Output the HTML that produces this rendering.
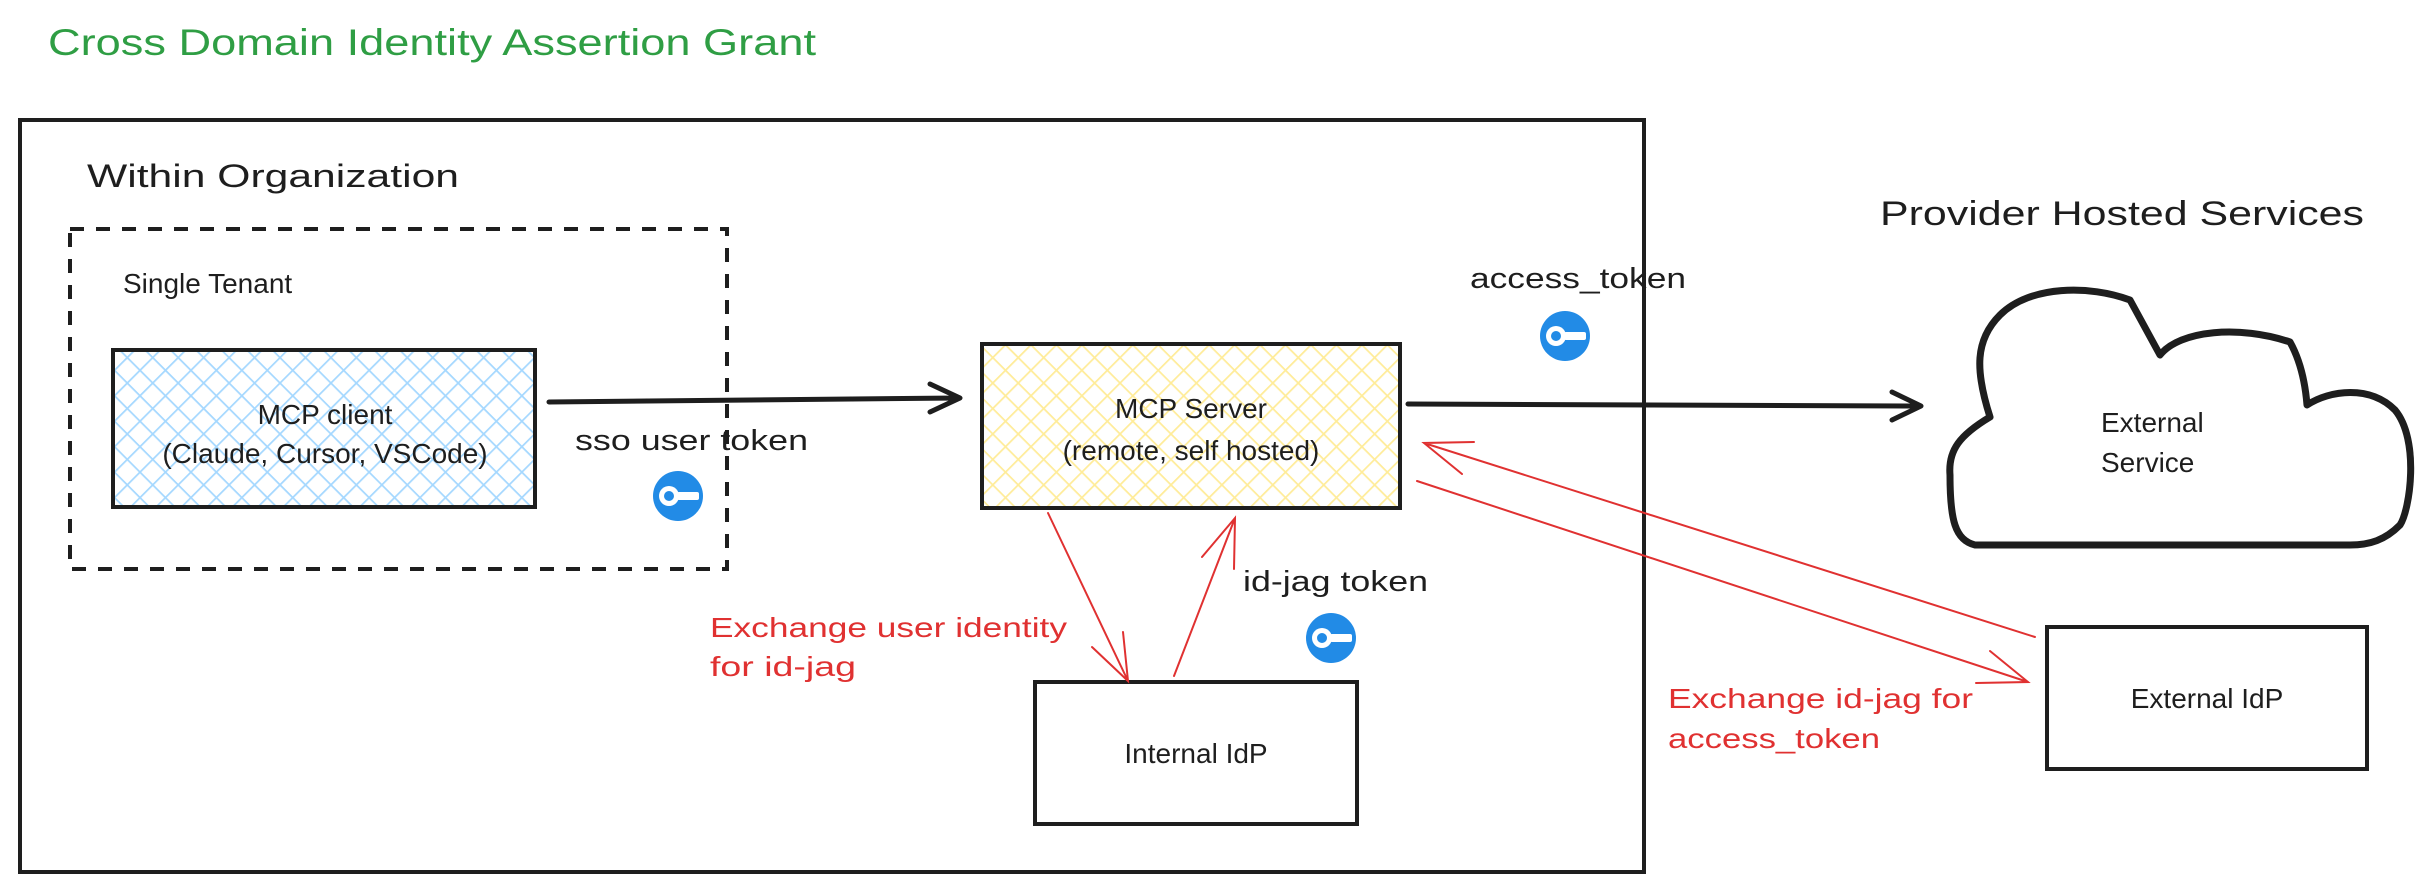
<!DOCTYPE html>
<html><head><meta charset="utf-8"><style>
html,body{margin:0;padding:0;background:#fff;}
svg{display:block}
text{font-family:"Liberation Sans",sans-serif;}
</style></head><body>
<svg width="2426" height="891" viewBox="0 0 2426 891" xmlns="http://www.w3.org/2000/svg">
<defs>
<pattern id="hb" width="18" height="18" patternUnits="userSpaceOnUse" patternTransform="rotate(45)">
<path d="M0 0V18M0 0H18" stroke="#a5d8ff" stroke-width="3.5"/>
</pattern>
<pattern id="hy" width="18" height="18" patternUnits="userSpaceOnUse" patternTransform="rotate(45)">
<path d="M0 0V18M0 0H18" stroke="#ffec99" stroke-width="3.5"/>
</pattern>
<g id="key">
<circle r="25" fill="#228be6"/>
<circle cx="-9" cy="0" r="10" fill="#fff"/>
<circle cx="-9" cy="0" r="5" fill="#228be6"/>
<rect x="-1" y="-4" width="22" height="8" rx="2" fill="#fff"/>
</g>
</defs>

<text x="48" y="55" font-size="37" fill="#2f9e44" textLength="768" lengthAdjust="spacingAndGlyphs">Cross Domain Identity Assertion Grant</text>

<rect x="20" y="120" width="1624" height="752" fill="none" stroke="#1e1e1e" stroke-width="4"/>
<text x="87" y="187" font-size="32" fill="#1e1e1e" textLength="372" lengthAdjust="spacingAndGlyphs">Within Organization</text>

<rect x="70" y="229" width="657" height="340" fill="none" stroke="#1e1e1e" stroke-width="4" stroke-dasharray="14 12"/>
<text x="123" y="293" font-size="28" fill="#1e1e1e">Single Tenant</text>

<rect x="113" y="350" width="422" height="157" fill="url(#hb)" stroke="#1e1e1e" stroke-width="4"/>
<text x="325" y="424" font-size="28" text-anchor="middle" fill="#1e1e1e">MCP client</text>
<text x="325" y="463" font-size="28" text-anchor="middle" fill="#1e1e1e">(Claude, Cursor, VSCode)</text>

<path d="M549 402 L958 398 M930 384 L960 398 L930 412" fill="none" stroke="#1e1e1e" stroke-width="5" stroke-linecap="round" stroke-linejoin="round"/>
<text x="575" y="450" font-size="29" fill="#1e1e1e" textLength="233" lengthAdjust="spacingAndGlyphs">sso user token</text>
<use href="#key" x="678" y="496"/>

<rect x="982" y="344" width="418" height="164" fill="url(#hy)" stroke="#1e1e1e" stroke-width="4"/>
<text x="1191" y="418" font-size="28" text-anchor="middle" fill="#1e1e1e">MCP Server</text>
<text x="1191" y="460" font-size="28" text-anchor="middle" fill="#1e1e1e">(remote, self hosted)</text>

<text x="1470" y="288" font-size="29" fill="#1e1e1e" textLength="216" lengthAdjust="spacingAndGlyphs">access_token</text>
<use href="#key" x="1565" y="336"/>

<path d="M1408 404 L1920 406 M1892 392 L1921 406 L1892 420" fill="none" stroke="#1e1e1e" stroke-width="5" stroke-linecap="round" stroke-linejoin="round"/>

<text x="1880" y="225" font-size="34" fill="#1e1e1e" textLength="484" lengthAdjust="spacingAndGlyphs">Provider Hosted Services</text>

<path d="M1975 545 C1955 540 1950 520 1950 475 C1948 450 1960 435 1990 417 C1975 370 1975 340 2000 315 C2030 285 2090 285 2130 300 L2160 355 C2180 330 2240 325 2290 342 C2300 360 2305 380 2307 405 C2330 390 2370 385 2395 410 C2420 440 2410 510 2400 525 C2385 540 2370 545 2350 545 Z" fill="none" stroke="#1e1e1e" stroke-width="7" stroke-linejoin="round"/>
<text x="2101" y="432" font-size="28" fill="#1e1e1e">External</text>
<text x="2101" y="472" font-size="28" fill="#1e1e1e">Service</text>

<rect x="1035" y="682" width="322" height="142" fill="none" stroke="#1e1e1e" stroke-width="4"/>
<text x="1196" y="763" font-size="28" text-anchor="middle" fill="#1e1e1e">Internal IdP</text>

<rect x="2047" y="627" width="320" height="142" fill="none" stroke="#1e1e1e" stroke-width="4"/>
<text x="2207" y="708" font-size="28" text-anchor="middle" fill="#1e1e1e">External IdP</text>

<g stroke="#e03131" stroke-width="2" fill="none" stroke-linecap="round">
<path d="M1048 513 L1128 681 M1092 647 L1128 681 L1123 632"/>
<path d="M1174 676 L1235 518 M1202 557 L1235 518 L1234 569"/>
<path d="M2035 637 L1424 443 M1474 442 L1424 443 L1462 474"/>
<path d="M1417 481 L2028 682 M1990 651 L2028 682 L1976 683"/>
</g>
<text x="1243" y="591" font-size="29" fill="#1e1e1e" textLength="185" lengthAdjust="spacingAndGlyphs">id-jag token</text>
<use href="#key" x="1331" y="638"/>

<text x="710" y="637" font-size="28" fill="#e03131" textLength="357" lengthAdjust="spacingAndGlyphs">Exchange user identity</text>
<text x="710" y="676" font-size="28" fill="#e03131" textLength="146" lengthAdjust="spacingAndGlyphs">for id-jag</text>

<text x="1668" y="708" font-size="28" fill="#e03131" textLength="305" lengthAdjust="spacingAndGlyphs">Exchange id-jag for</text>
<text x="1668" y="748" font-size="28" fill="#e03131" textLength="212" lengthAdjust="spacingAndGlyphs">access_token</text>
</svg>
</body></html>
